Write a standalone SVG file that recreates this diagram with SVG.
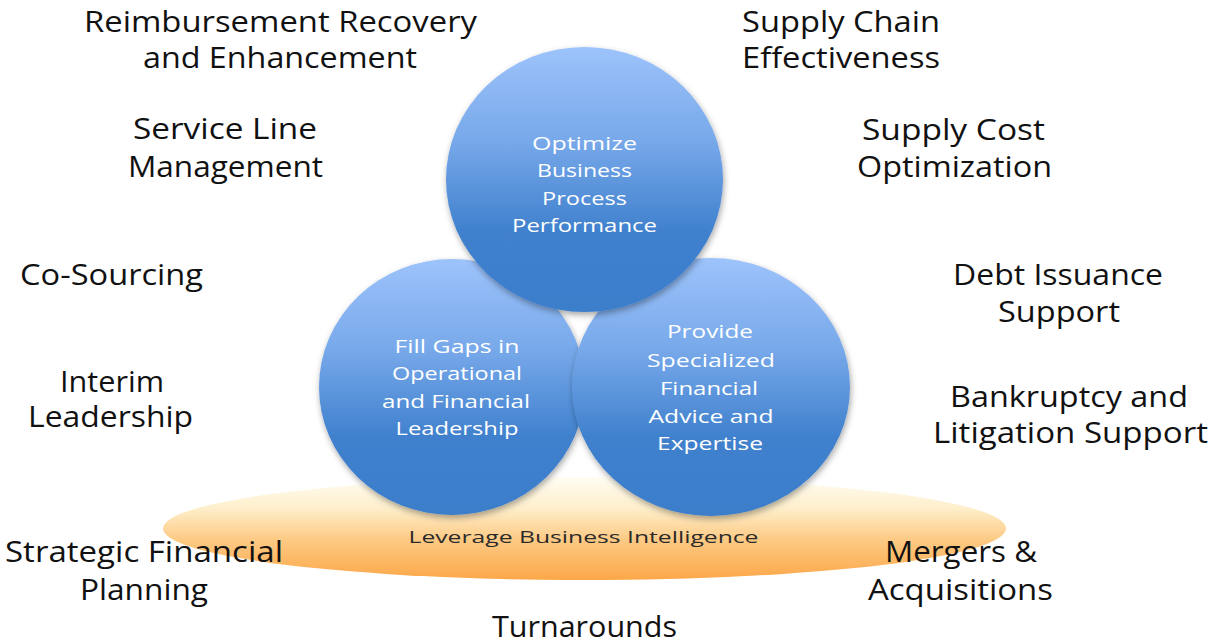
<svg xmlns="http://www.w3.org/2000/svg" width="1211" height="644" viewBox="0 0 1211 644">
  <defs>
    <linearGradient id="blueFill" x1="0" y1="0" x2="0" y2="1">
      <stop offset="0" stop-color="#9DC3FB"/>
      <stop offset="0.35" stop-color="#78A9EA"/>
      <stop offset="0.7" stop-color="#3F80CD"/>
      <stop offset="1" stop-color="#3C7ECB"/>
    </linearGradient>
    <linearGradient id="baseFill" x1="0" y1="0" x2="0" y2="1">
      <stop offset="0" stop-color="#FFFDF4"/>
      <stop offset="0.3" stop-color="#FEEFCC"/>
      <stop offset="0.6" stop-color="#FDCB86"/>
      <stop offset="1" stop-color="#FCA748"/>
    </linearGradient>
    <filter id="shadow" x="-20%" y="-20%" width="140%" height="150%">
      <feDropShadow dx="1" dy="3" stdDeviation="3" flood-color="#000" flood-opacity="0.35"/>
    </filter>
  </defs>
  <style>
    .lbl { font-family: "Open Sans", "Noto Sans", sans-serif; font-size: 28.5px; fill: #111; text-anchor: middle; }
    .in { font-family: "Open Sans", "Noto Sans", sans-serif; font-size: 19px; fill: #fff; text-anchor: middle; }
    .base { font-family: "Open Sans", "Noto Sans", sans-serif; font-size: 16px; fill: #2a2a2a; text-anchor: middle; }
  </style>

  <rect width="1211" height="644" fill="#fff"/>

  <!-- foundation ellipse -->
  <g id="base">
    <ellipse cx="584.5" cy="528.5" rx="421.5" ry="51.5" fill="url(#baseFill)"/>
    <text class="base" x="583.5" y="543" textLength="350" lengthAdjust="spacingAndGlyphs">Leverage Business Intelligence</text>
  </g>

  <!-- three pillars -->
  <g id="fill-gaps">
    <ellipse cx="452" cy="387" rx="133" ry="128" fill="url(#blueFill)" filter="url(#shadow)"/>
    <text class="in" x="457" y="353" textLength="125" lengthAdjust="spacingAndGlyphs">Fill Gaps in</text>
    <text class="in" x="457" y="380" textLength="130" lengthAdjust="spacingAndGlyphs">Operational</text>
    <text class="in" x="456" y="408" textLength="148" lengthAdjust="spacingAndGlyphs">and Financial</text>
    <text class="in" x="457" y="435" textLength="123" lengthAdjust="spacingAndGlyphs">Leadership</text>
  </g>
  <g id="advice">
    <ellipse cx="711" cy="387" rx="139" ry="129" fill="url(#blueFill)" filter="url(#shadow)"/>
    <text class="in" x="710" y="338" textLength="86" lengthAdjust="spacingAndGlyphs">Provide</text>
    <text class="in" x="711" y="367" textLength="128" lengthAdjust="spacingAndGlyphs">Specialized</text>
    <text class="in" x="709" y="395" textLength="98" lengthAdjust="spacingAndGlyphs">Financial</text>
    <text class="in" x="711" y="423" textLength="125" lengthAdjust="spacingAndGlyphs">Advice and</text>
    <text class="in" x="710" y="450" textLength="106" lengthAdjust="spacingAndGlyphs">Expertise</text>
  </g>
  <g id="optimize">
    <ellipse cx="584.5" cy="179.5" rx="138.5" ry="132.5" fill="url(#blueFill)" filter="url(#shadow)"/>
    <text class="in" x="584.5" y="150" textLength="105" lengthAdjust="spacingAndGlyphs">Optimize</text>
    <text class="in" x="584.5" y="177" textLength="95" lengthAdjust="spacingAndGlyphs">Business</text>
    <text class="in" x="584.5" y="205" textLength="85" lengthAdjust="spacingAndGlyphs">Process</text>
    <text class="in" x="584.5" y="232" textLength="145" lengthAdjust="spacingAndGlyphs">Performance</text>
  </g>

  <!-- surrounding service labels -->
  <g id="reimbursement">
    <text class="lbl" x="280.5" y="32" textLength="393" lengthAdjust="spacingAndGlyphs">Reimbursement Recovery</text>
    <text class="lbl" x="280" y="68" textLength="274" lengthAdjust="spacingAndGlyphs">and Enhancement</text>
  </g>
  <g id="service-line">
    <text class="lbl" x="225" y="139" textLength="184" lengthAdjust="spacingAndGlyphs">Service Line</text>
    <text class="lbl" x="225.5" y="177" textLength="195" lengthAdjust="spacingAndGlyphs">Management</text>
  </g>
  <g id="co-sourcing">
    <text class="lbl" x="111.5" y="285" textLength="183" lengthAdjust="spacingAndGlyphs">Co-Sourcing</text>
  </g>
  <g id="interim">
    <text class="lbl" x="112" y="392" textLength="104" lengthAdjust="spacingAndGlyphs">Interim</text>
    <text class="lbl" x="110.5" y="427" textLength="165" lengthAdjust="spacingAndGlyphs">Leadership</text>
  </g>
  <g id="strategic">
    <text class="lbl" x="144" y="562" textLength="278" lengthAdjust="spacingAndGlyphs">Strategic Financial</text>
    <text class="lbl" x="144" y="600" textLength="128" lengthAdjust="spacingAndGlyphs">Planning</text>
  </g>
  <g id="turnarounds">
    <text class="lbl" x="584.5" y="637" textLength="185" lengthAdjust="spacingAndGlyphs">Turnarounds</text>
  </g>
  <g id="supply-chain">
    <text class="lbl" x="841" y="32" textLength="198" lengthAdjust="spacingAndGlyphs">Supply Chain</text>
    <text class="lbl" x="841" y="68" textLength="198" lengthAdjust="spacingAndGlyphs">Effectiveness</text>
  </g>
  <g id="supply-cost">
    <text class="lbl" x="953.5" y="140" textLength="183" lengthAdjust="spacingAndGlyphs">Supply Cost</text>
    <text class="lbl" x="954.5" y="177" textLength="195" lengthAdjust="spacingAndGlyphs">Optimization</text>
  </g>
  <g id="debt">
    <text class="lbl" x="1058" y="285" textLength="210" lengthAdjust="spacingAndGlyphs">Debt Issuance</text>
    <text class="lbl" x="1059" y="322" textLength="122" lengthAdjust="spacingAndGlyphs">Support</text>
  </g>
  <g id="bankruptcy">
    <text class="lbl" x="1069" y="407" textLength="238" lengthAdjust="spacingAndGlyphs">Bankruptcy and</text>
    <text class="lbl" x="1070.5" y="443" textLength="275" lengthAdjust="spacingAndGlyphs">Litigation Support</text>
  </g>
  <g id="mergers">
    <text class="lbl" x="961" y="562" textLength="152" lengthAdjust="spacingAndGlyphs">Mergers &amp;</text>
    <text class="lbl" x="960.5" y="600" textLength="185" lengthAdjust="spacingAndGlyphs">Acquisitions</text>
  </g>

  <!-- no connectors in this figure -->
  <g id="connectors"/>
</svg>
